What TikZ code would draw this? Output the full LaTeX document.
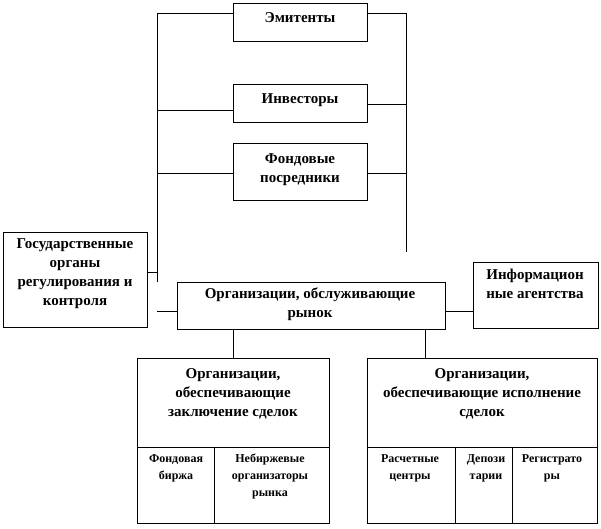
\documentclass[tikz,border=0pt]{standalone}
\usepackage{fontspec}
\setmainfont{Liberation Serif}
\begin{document}
\begin{tikzpicture}[x=1pt,y=-1pt,
  box/.style={draw, line width=0.9pt, inner sep=0pt, anchor=north west},
  big/.style={font=\bfseries\fontsize{15}{19}\selectfont, align=center, inner sep=0pt},
  small/.style={font=\bfseries\fontsize{12}{17}\selectfont, align=center, inner sep=0pt, anchor=north},
  ln/.style={line width=0.9pt}]
\useasboundingbox (0,0) rectangle (601,528);
% boxes
\node[box, minimum width=134pt, minimum height=38pt] (em) at (233,3) {};
\node[big] (emt) at (300,18) {Эмитенты};
\node[box, minimum width=134pt, minimum height=38pt] (inv) at (233,84) {};
\node[big] (invt) at (300,100) {Инвесторы};
\node[box, minimum width=134pt, minimum height=57pt] (fp) at (233,143) {};
\node[big] (fpt) at (300,170) {Фондовые\\посредники};
\node[box, minimum width=144pt, minimum height=95pt] (gos) at (3,232) {};
\node[big] (gost) at (75,274) {Государственные\\органы\\регулирования и\\контроля};
\node[box, minimum width=268pt, minimum height=47pt] (org) at (177,282) {};
\node[big] (orgt) at (310,304) {Организации, обслуживающие\\рынок};
\node[box, minimum width=125pt, minimum height=66pt] (inf) at (473,262) {};
\node[big] (inft) at (535,284) {Информацион\\ные агентства};
% bottom left
\node[box, minimum width=192pt, minimum height=165pt] (bl) at (137,358) {};
\node[big, anchor=north] (blt) at (233,368) {Организации,\\обеспечивающие\\заключение сделок};
\coordinate (blh1) at (137,447);
\coordinate (blh2) at (329,447);
\coordinate (blv1) at (214,447);
\coordinate (blv2) at (214,523);
\node[small] (fb) at (176,454) {Фондовая\\биржа};
\node[small] (nb) at (270,454) {Небиржевые\\организаторы\\рынка};
% bottom right
\node[box, minimum width=230pt, minimum height=165pt] (br) at (367,358) {};
\node[big, anchor=north] (brt) at (482,368) {Организации,\\обеспечивающие исполнение\\сделок};
\coordinate (brh1) at (367,447);
\coordinate (brh2) at (597,447);
\coordinate (brv1) at (455,447);
\coordinate (brv2) at (455,523);
\coordinate (brv3) at (512,447);
\coordinate (brv4) at (512,523);
\node[small] (rc) at (410,454) {Расчетные\\центры};
\node[small] (dp) at (486,454) {Депози\\тарии};
\node[small] (rg) at (552,454) {Регистрато\\ры};
\draw[ln] (blh1) -- (blh2) (blv1) -- (blv2);
\draw[ln] (brh1) -- (brh2) (brv1) -- (brv2) (brv3) -- (brv4);
% connectors
\coordinate (LT) at (157,13);
\coordinate (LB) at (157,282);
\coordinate (RT) at (406,13);
\coordinate (RB) at (406,252);
\draw[ln] (LT) -- (LB);
\draw[ln] (RT) -- (RB);
\draw[ln] (LT) -- (LT -| em.west);
\draw[ln] (RT) -- (RT -| em.east);
\coordinate (il) at (157,110);
\coordinate (ir) at (406,104);
\draw[ln] (il) -- (il -| inv.west);
\draw[ln] (ir) -- (ir -| inv.east);
\coordinate (fl) at (157,173);
\coordinate (fr) at (406,173);
\draw[ln] (fl) -- (fl -| fp.west);
\draw[ln] (fr) -- (fr -| fp.east);
\coordinate (gl) at (157,272);
\draw[ln] (gl) -- (gl -| gos.east);
\coordinate (os) at (157,311);
\draw[ln] (os) -- (os -| org.west);
\coordinate (oi) at (445,311);
\draw[ln] (oi) -- (oi -| inf.west);
\draw[ln] (org.south -| bl.north) -- (bl.north);
\coordinate (obr) at (425,329);
\draw[ln] (obr) -- (obr |- br.north);
\end{tikzpicture}
\end{document}
